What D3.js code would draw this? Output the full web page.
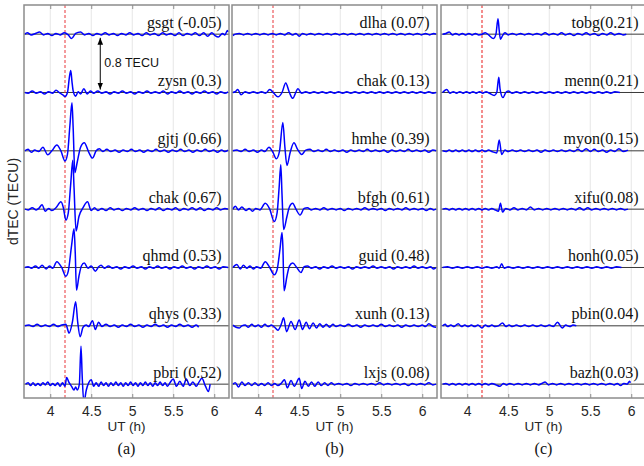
<!DOCTYPE html>
<html>
<head>
<meta charset="utf-8">
<script src="https://cdn.jsdelivr.net/npm/d3@7"></script>
<style>
  body { margin: 0; background: #fff; }
  svg { display: block; }
</style>
</head>
<body>
<svg id="chart" width="644" height="466"></svg>
<script>
// ---- data: dTEC traces as flat [UT, dTEC] pairs ----
const xTicks = [4, 4.5, 5, 5.5, 6];
const eventUT = 4.18;        // red dashed line
const rowGap = 0.8;          // TECU between stacked traces

// panel (a)
const gsgt = [3.69,0, 3.72,.02, 3.77,-.01, 3.82,.01, 3.87,.03, 3.92,-.01, 3.97,.01, 4.02,-.02, 4.07,.01, 4.12,-.01, 4.17,.02, 4.22,-.01, 4.26,-.06, 4.31,.01, 4.37,.03, 4.42,-.01, 4.47,.01, 4.52,-.02, 4.57,.01, 4.62,-.01, 4.67,.02, 4.72,-.01, 4.77,.01, 4.82,-.02, 4.87,.01, 4.92,-.01, 4.97,.02, 5.02,-.01, 5.07,.01, 5.12,-.02, 5.17,.02, 5.22,-.01, 5.27,.01, 5.32,-.02, 5.37,.02, 5.42,-.01, 5.47,.01, 5.52,-.02, 5.57,.02, 5.62,-.02, 5.67,.01, 5.72,-.01, 5.77,.02, 5.82,-.02, 5.87,.02, 5.92,-.03, 5.97,.02, 6.01,-.02, 6.05,-.04, 6.10,.01, 6.13,-.01, 6.16,.05, 6.17,.03];
const zysn = [3.69,0, 3.73,-.01, 3.78,.02, 3.83,-.01, 3.88,.01, 3.93,-.02, 3.98,.01, 4.03,-.01, 4.07,.03, 4.12,-.01, 4.15,-.03, 4.18,-.055, 4.21,0, 4.235,.22, 4.25,.30, 4.265,.15, 4.28,.02, 4.31,-.05, 4.34,.01, 4.37,-.02, 4.41,.05, 4.45,-.02, 4.49,.02, 4.53,-.01, 4.58,.02, 4.63,-.01, 4.68,.01, 4.73,-.02, 4.78,.01, 4.83,-.01, 4.88,.02, 4.93,-.01, 4.98,.01, 5.03,-.02, 5.08,.01, 5.13,-.01, 5.18,.02, 5.23,-.01, 5.28,.01, 5.33,-.01, 5.38,.02, 5.43,-.02, 5.48,.01, 5.53,-.01, 5.58,.02, 5.63,-.01, 5.68,.01, 5.73,-.02, 5.78,.01, 5.83,-.01, 5.88,.02, 5.93,-.01, 5.98,.01, 6.03,-.02, 6.08,.01, 6.13,-.01, 6.17,.01];
const gjtj = [3.69,0, 3.73,.02, 3.77,-.02, 3.81,.01, 3.86,-.01, 3.91,.05, 3.97,-.055, 4.02,0, 4.08,.08, 4.13,0, 4.18,-.14, 4.21,-.05, 4.24,.35, 4.265,.66, 4.28,.30, 4.30,-.30, 4.33,-.15, 4.37,.05, 4.415,.11, 4.47,-.02, 4.515,-.10, 4.56,0, 4.60,.03, 4.64,-.01, 4.69,.02, 4.74,-.01, 4.79,.01, 4.84,-.02, 4.89,.01, 4.94,-.01, 4.99,.02, 5.04,-.01, 5.09,.01, 5.14,-.02, 5.19,.01, 5.24,-.01, 5.29,.02, 5.34,-.01, 5.39,.01, 5.44,-.02, 5.49,.01, 5.54,-.01, 5.59,.02, 5.64,-.01, 5.69,.01, 5.74,-.02, 5.79,.01, 5.84,-.01, 5.89,.02, 5.94,-.01, 5.99,.01, 6.04,-.02, 6.09,.01, 6.13,-.01, 6.17,.01];
const chakA = [3.69,0, 3.73,-.01, 3.78,.02, 3.83,-.01, 3.86,.01, 3.90,.06, 3.94,-.03, 3.98,.01, 4.02,-.02, 4.07,.02, 4.13,.10, 4.16,.02, 4.19,-.15, 4.22,-.05, 4.25,.35, 4.275,.67, 4.29,.30, 4.315,-.30, 4.35,-.10, 4.40,.02, 4.455,.10, 4.50,-.02, 4.54,.02, 4.58,-.02, 4.63,.01, 4.68,-.02, 4.73,.02, 4.78,-.01, 4.83,.01, 4.88,-.02, 4.93,.01, 4.98,-.01, 5.03,.02, 5.08,-.01, 5.13,.01, 5.18,-.02, 5.23,.01, 5.28,-.01, 5.33,.02, 5.38,-.02, 5.43,.01, 5.48,-.01, 5.53,.02, 5.58,-.02, 5.63,.01, 5.68,-.01, 5.73,.02, 5.78,-.01, 5.83,.02, 5.88,-.02, 5.93,.01, 5.98,-.01, 6.03,.02, 6.08,-.01, 6.13,.01, 6.17,0];
const qhmd = [3.69,0, 3.73,.01, 3.77,-.01, 3.82,.02, 3.86,-.01, 3.90,.03, 3.95,-.02, 3.99,.02, 4.03,-.01, 4.08,.08, 4.14,0, 4.19,-.12, 4.22,-.05, 4.26,.30, 4.29,.53, 4.305,.20, 4.32,-.31, 4.35,-.12, 4.38,.02, 4.415,.06, 4.46,-.01, 4.50,.02, 4.55,-.05, 4.59,.01, 4.62,.03, 4.66,-.01, 4.71,.02, 4.76,-.01, 4.81,.01, 4.86,-.02, 4.91,.01, 4.96,-.01, 5.01,.02, 5.06,-.01, 5.11,.01, 5.16,-.02, 5.21,.01, 5.26,-.01, 5.31,.02, 5.36,-.01, 5.41,.01, 5.46,-.02, 5.51,.01, 5.56,-.01, 5.61,.02, 5.66,-.01, 5.71,.01, 5.76,-.02, 5.81,.01, 5.86,-.01, 5.91,.02, 5.96,-.01, 6.01,.01, 6.06,-.02, 6.11,.01, 6.17,0];
const qhys = [3.69,0, 3.74,.01, 3.79,-.01, 3.84,.02, 3.89,-.01, 3.94,.01, 3.99,-.01, 4.04,.02, 4.09,-.01, 4.14,.01, 4.19,.02, 4.23,-.10, 4.27,.05, 4.31,.33, 4.335,.05, 4.365,-.15, 4.40,-.02, 4.44,.01, 4.47,-.01, 4.515,.07, 4.55,-.05, 4.59,.05, 4.63,-.01, 4.68,.02, 4.73,-.01, 4.78,.01, 4.83,-.02, 4.88,.01, 4.93,-.01, 4.98,.02, 5.03,-.01, 5.08,.01, 5.13,-.02, 5.18,.01, 5.23,-.01, 5.28,.02, 5.33,-.01, 5.38,.01, 5.43,-.02, 5.48,.01, 5.53,-.01, 5.58,.02, 5.63,-.01, 5.68,.01, 5.73,-.02, 5.78,.01, 5.81,-.02];
const pbri = [3.70,0, 3.73,.02, 3.76,-.02, 3.79,.02, 3.82,-.02, 3.85,.01, 3.88,-.02, 3.91,.02, 3.94,-.01, 3.97,.03, 4.00,-.02, 4.03,.01, 4.06,-.02, 4.09,.02, 4.12,-.03, 4.15,.02, 4.18,-.03, 4.20,.09, 4.23,.02, 4.26,-.03, 4.29,-.08, 4.31,-.04, 4.33,-.08, 4.355,0, 4.375,.52, 4.39,.10, 4.41,-.25, 4.44,-.08, 4.47,.02, 4.50,.06, 4.53,-.03, 4.56,.02, 4.59,-.03, 4.62,.03, 4.65,-.02, 4.68,.02, 4.71,-.03, 4.74,.02, 4.77,-.02, 4.80,.03, 4.83,-.02, 4.86,.02, 4.89,-.03, 4.92,.02, 4.95,-.02, 4.98,.03, 5.01,-.02, 5.04,.02, 5.07,-.03, 5.10,.02, 5.13,-.02, 5.16,.03, 5.19,-.02, 5.22,.02, 5.25,-.03, 5.28,.02, 5.31,-.02, 5.34,.03, 5.37,-.02, 5.40,.02, 5.43,-.03, 5.46,.02, 5.50,.07, 5.54,-.03, 5.58,.04, 5.62,-.03, 5.66,.07, 5.70,-.02, 5.74,.03, 5.78,-.03, 5.81,.02, 5.85,.08, 5.89,-.02, 5.93,-.10, 5.95,0];

// panel (b)
const dlha = [3.69,-.02, 3.72,0, 3.77,.01, 3.82,-.01, 3.87,.01, 3.92,-.01, 3.97,.01, 4.02,-.01, 4.07,.01, 4.12,-.01, 4.17,.01, 4.22,-.01, 4.27,.01, 4.32,-.01, 4.37,.02, 4.42,-.01, 4.46,.01, 4.50,-.03, 4.54,.01, 4.59,-.01, 4.64,.01, 4.69,-.01, 4.74,.01, 4.79,-.01, 4.84,.01, 4.89,-.01, 4.94,.01, 4.99,-.01, 5.04,.01, 5.09,-.01, 5.14,.01, 5.19,-.01, 5.24,.01, 5.29,-.01, 5.34,.01, 5.39,-.01, 5.44,.01, 5.49,-.01, 5.54,.01, 5.59,-.01, 5.64,.01, 5.69,-.01, 5.74,.01, 5.79,-.01, 5.84,.01, 5.89,-.01, 5.94,.01, 5.99,-.01, 6.04,.01, 6.09,-.01, 6.14,.01, 6.17,0];
const chakB = [3.69,0, 3.72,.01, 3.75,.04, 3.79,-.03, 3.84,.01, 3.89,-.01, 3.94,.01, 3.99,-.01, 4.04,.01, 4.09,-.01, 4.14,.04, 4.19,-.01, 4.24,-.06, 4.29,0, 4.335,.13, 4.38,0, 4.42,-.08, 4.485,.05, 4.53,-.01, 4.58,.01, 4.63,-.01, 4.68,.01, 4.73,-.01, 4.78,.01, 4.83,-.01, 4.88,.01, 4.93,-.01, 4.98,.01, 5.03,-.01, 5.08,.01, 5.13,-.01, 5.18,.01, 5.23,-.01, 5.28,.01, 5.33,-.01, 5.38,.01, 5.43,-.01, 5.48,.01, 5.53,-.01, 5.58,.01, 5.63,-.01, 5.68,.01, 5.73,-.01, 5.78,.01, 5.83,-.01, 5.88,.01, 5.93,-.01, 5.98,.01, 6.03,-.01, 6.08,.01, 6.13,-.01, 6.17,0];
const hmhe = [3.69,0, 3.74,.01, 3.79,-.01, 3.84,.02, 3.89,-.01, 3.94,.01, 3.99,-.02, 4.04,.01, 4.08,-.01, 4.13,.05, 4.18,-.02, 4.22,-.11, 4.26,0, 4.30,.39, 4.325,.05, 4.35,-.20, 4.39,-.02, 4.435,.11, 4.48,.02, 4.53,-.05, 4.58,.01, 4.63,.02, 4.68,-.01, 4.73,.01, 4.78,-.01, 4.83,.02, 4.88,-.01, 4.93,.01, 4.98,-.01, 5.03,.01, 5.08,-.02, 5.13,.01, 5.18,-.01, 5.23,.01, 5.28,-.01, 5.33,.02, 5.38,-.01, 5.43,.01, 5.48,-.01, 5.53,.01, 5.58,-.02, 5.63,.01, 5.68,-.01, 5.73,.01, 5.78,-.01, 5.83,.02, 5.88,-.01, 5.93,.01, 5.98,-.01, 6.03,.01, 6.08,-.02, 6.13,.01, 6.17,0];
const bfgh = [3.69,0, 3.72,.04, 3.76,-.01, 3.80,.03, 3.85,-.02, 3.89,.01, 3.93,-.03, 3.97,.01, 4.02,-.01, 4.085,.08, 4.14,0, 4.195,-.17, 4.23,-.05, 4.255,.30, 4.275,.61, 4.29,.20, 4.31,-.28, 4.35,-.10, 4.38,.03, 4.42,.08, 4.46,0, 4.51,-.08, 4.56,.01, 4.60,.02, 4.65,-.01, 4.70,.01, 4.75,-.01, 4.80,.02, 4.85,-.01, 4.90,.01, 4.95,-.01, 5.00,.01, 5.05,-.02, 5.10,.01, 5.15,-.01, 5.20,.01, 5.25,-.01, 5.30,.02, 5.35,-.01, 5.40,.01, 5.45,-.01, 5.50,.01, 5.55,-.02, 5.60,.01, 5.65,-.01, 5.70,.01, 5.75,-.01, 5.80,.02, 5.85,-.01, 5.90,.01, 5.95,-.01, 6.00,.01, 6.05,-.02, 6.10,.01, 6.14,-.01, 6.17,0];
const guid = [3.69,0, 3.74,.04, 3.78,-.02, 3.82,.03, 3.86,-.01, 3.90,.02, 3.94,-.02, 3.98,.01, 4.03,-.01, 4.085,.08, 4.14,0, 4.195,-.10, 4.23,-.03, 4.265,.25, 4.29,.48, 4.30,.30, 4.315,-.32, 4.35,-.12, 4.38,.02, 4.42,.06, 4.47,0, 4.52,-.07, 4.56,.01, 4.60,.02, 4.65,-.01, 4.70,.01, 4.75,-.02, 4.80,.01, 4.85,-.01, 4.90,.02, 4.95,-.01, 5.00,.01, 5.05,-.01, 5.10,.01, 5.15,-.02, 5.20,.01, 5.25,-.01, 5.30,.01, 5.35,-.01, 5.40,.02, 5.45,-.01, 5.50,.01, 5.55,-.01, 5.60,.01, 5.65,-.02, 5.70,.01, 5.75,-.01, 5.80,.01, 5.85,-.01, 5.90,.02, 5.95,-.01, 6.00,.01, 6.05,-.01, 6.10,.01, 6.14,-.02, 6.17,0];
const xunh = [3.69,.01, 3.73,-.02, 3.77,-.03, 3.80,0, 3.84,.01, 3.88,-.02, 3.92,.02, 3.96,-.01, 4.00,.01, 4.04,-.02, 4.08,.02, 4.12,-.01, 4.16,.01, 4.20,-.02, 4.24,-.06, 4.28,.02, 4.31,.11, 4.345,-.08, 4.40,.06, 4.45,-.05, 4.50,.08, 4.54,-.05, 4.585,.05, 4.625,-.04, 4.67,.04, 4.71,-.03, 4.75,.03, 4.79,-.02, 4.83,.02, 4.87,-.02, 4.91,.02, 4.95,-.01, 5.00,.01, 5.05,-.01, 5.10,.02, 5.15,-.01, 5.20,.01, 5.25,-.02, 5.30,.01, 5.35,-.01, 5.40,.01, 5.45,-.01, 5.50,.02, 5.55,-.01, 5.60,.01, 5.65,-.01, 5.70,.01, 5.75,-.02, 5.80,.01, 5.85,-.01, 5.90,.01, 5.95,-.01, 6.00,.01, 6.04,-.01, 6.08,.03, 6.13,-.01, 6.17,-.02];
const lxjs = [3.69,0, 3.72,.02, 3.76,-.04, 3.80,.03, 3.84,-.02, 3.88,.02, 3.92,-.02, 3.96,.02, 4.00,-.02, 4.04,.01, 4.08,-.02, 4.12,.02, 4.16,-.02, 4.20,.01, 4.24,-.02, 4.28,.01, 4.32,.06, 4.355,-.05, 4.40,.05, 4.44,-.03, 4.50,.08, 4.53,-.06, 4.57,.04, 4.61,-.03, 4.65,.03, 4.69,-.03, 4.73,.03, 4.77,-.02, 4.81,.02, 4.85,-.02, 4.89,.02, 4.93,-.01, 4.98,.01, 5.03,-.01, 5.08,.01, 5.13,-.02, 5.18,.01, 5.23,-.01, 5.28,.01, 5.33,-.01, 5.38,.01, 5.43,-.01, 5.48,.02, 5.53,-.01, 5.58,.01, 5.63,-.01, 5.68,.01, 5.73,-.01, 5.78,.01, 5.83,-.02, 5.88,.01, 5.93,-.01, 5.98,.01, 6.03,-.01, 6.08,.02, 6.13,-.01, 6.17,0];

// panel (c)
const tobg = [3.70,0, 3.74,.01, 3.78,.03, 3.82,-.01, 3.86,.01, 3.90,-.01, 3.94,.01, 3.98,-.01, 4.02,.01, 4.06,-.01, 4.10,.01, 4.14,-.01, 4.18,0, 4.22,.02, 4.26,-.01, 4.32,-.06, 4.35,0, 4.375,.21, 4.39,.05, 4.405,-.07, 4.43,-.02, 4.46,.02, 4.50,-.01, 4.55,.01, 4.60,-.01, 4.65,.01, 4.70,-.01, 4.75,.01, 4.80,-.01, 4.85,.01, 4.90,-.01, 4.95,.02, 5.00,-.01, 5.05,.01, 5.10,-.01, 5.15,.02, 5.20,-.01, 5.25,.01, 5.30,-.02, 5.35,.01, 5.40,-.01, 5.45,.02, 5.50,-.01, 5.55,.01, 5.60,-.02, 5.65,.01, 5.70,-.01, 5.75,.02, 5.80,-.01, 5.85,.01, 5.90,-.01, 5.94,0];
const menn = [3.70,0, 3.75,.04, 3.79,-.01, 3.83,.01, 3.87,-.01, 3.91,.01, 3.95,-.01, 3.99,.01, 4.03,-.01, 4.07,.01, 4.11,-.01, 4.15,.01, 4.19,-.01, 4.23,.01, 4.27,-.01, 4.33,-.04, 4.36,0, 4.385,.21, 4.40,.05, 4.435,-.07, 4.47,0, 4.50,.02, 4.55,-.01, 4.60,.01, 4.65,-.01, 4.70,.01, 4.75,-.01, 4.80,.01, 4.85,-.01, 4.90,.01, 4.95,-.01, 5.00,.01, 5.05,-.01, 5.10,.01, 5.15,-.01, 5.20,.01, 5.25,-.01, 5.30,.01, 5.35,-.01, 5.40,.01, 5.45,-.01, 5.50,.01, 5.55,-.01, 5.60,.01, 5.65,-.01, 5.70,.01, 5.75,-.01, 5.80,.01, 5.86,0];
const myon = [3.70,0, 3.74,-.01, 3.78,.01, 3.82,-.01, 3.86,.01, 3.90,-.01, 3.94,.01, 3.98,-.01, 4.02,.01, 4.06,-.01, 4.10,.01, 4.14,-.01, 4.18,.01, 4.22,-.01, 4.26,.01, 4.30,-.01, 4.36,-.03, 4.39,.15, 4.42,-.05, 4.46,.01, 4.50,-.01, 4.55,.01, 4.60,-.01, 4.65,.01, 4.70,-.01, 4.75,.01, 4.80,-.01, 4.85,.01, 4.90,-.02, 4.95,.01, 5.00,-.01, 5.05,.01, 5.10,-.01, 5.15,.01, 5.20,-.01, 5.25,.01, 5.30,-.01, 5.35,.02, 5.40,-.01, 5.45,.03, 5.50,-.01, 5.55,.02, 5.60,-.01, 5.65,.01, 5.70,-.02, 5.75,.01, 5.80,-.01, 5.85,.03, 5.90,-.01, 5.96,.01];
const xifu = [3.70,0, 3.74,.01, 3.78,-.01, 3.82,.01, 3.86,-.01, 3.90,.01, 3.94,-.01, 3.98,.01, 4.02,-.01, 4.06,.01, 4.10,-.01, 4.14,.01, 4.18,-.01, 4.22,.01, 4.26,-.01, 4.30,.01, 4.34,-.01, 4.38,-.03, 4.405,.08, 4.43,-.04, 4.47,.01, 4.52,-.01, 4.57,.02, 4.62,-.01, 4.67,.01, 4.72,-.01, 4.77,.03, 4.82,-.01, 4.87,.01, 4.92,-.01, 4.97,.01, 5.02,-.01, 5.07,.01, 5.12,-.01, 5.17,.01, 5.22,-.01, 5.27,.01, 5.32,-.01, 5.37,.02, 5.42,-.01, 5.47,.02, 5.52,-.01, 5.57,.01, 5.62,-.01, 5.67,.01, 5.72,-.01, 5.77,.01, 5.82,-.01, 5.87,.01, 5.92,-.01, 5.96,0];
const honh = [3.70,0, 3.76,.01, 3.82,-.01, 3.88,.01, 3.94,-.01, 4.00,.01, 4.06,-.01, 4.12,.01, 4.18,-.01, 4.24,.01, 4.30,-.01, 4.36,.01, 4.39,-.01, 4.42,.05, 4.45,-.01, 4.50,.01, 4.56,-.01, 4.62,.01, 4.68,-.01, 4.74,.01, 4.80,-.01, 4.86,.01, 4.92,-.01, 4.98,.01, 5.04,-.01, 5.10,.01, 5.16,-.01, 5.22,.01, 5.28,-.01, 5.34,.01, 5.40,-.01, 5.46,.01, 5.52,-.01, 5.58,.01, 5.64,-.01, 5.70,.01, 5.76,-.01, 5.82,.01, 5.88,0];
const pbin = [3.70,0, 3.73,.02, 3.76,-.01, 3.80,.01, 3.84,-.01, 3.89,.03, 3.93,-.01, 3.97,.01, 4.01,-.01, 4.05,.01, 4.09,-.01, 4.13,.01, 4.18,-.03, 4.22,.01, 4.26,-.01, 4.30,.01, 4.34,-.01, 4.38,0, 4.43,.04, 4.47,-.01, 4.51,.01, 4.55,-.01, 4.60,.01, 4.65,-.01, 4.70,.01, 4.75,-.01, 4.80,.01, 4.85,-.01, 4.90,.01, 4.95,-.01, 5.00,.01, 5.05,-.01, 5.10,.05, 5.16,-.03, 5.20,.01, 5.25,-.01, 5.29,.01, 5.33,0];
const bazh = [3.70,0, 3.74,.01, 3.78,-.01, 3.82,.01, 3.86,-.01, 3.90,.01, 3.94,-.01, 3.98,.01, 4.02,-.01, 4.06,.01, 4.10,-.01, 4.14,.01, 4.18,-.01, 4.22,.01, 4.26,-.01, 4.30,.01, 4.35,-.01, 4.40,-.03, 4.44,.01, 4.48,-.01, 4.52,.01, 4.57,-.01, 4.62,.01, 4.67,-.01, 4.72,.01, 4.77,-.01, 4.82,.01, 4.87,-.01, 4.91,.01, 4.95,.03, 4.99,-.01, 5.04,.01, 5.09,-.01, 5.14,.01, 5.19,-.01, 5.24,.01, 5.29,-.01, 5.34,.01, 5.39,-.01, 5.44,.01, 5.49,-.01, 5.54,.01, 5.59,-.01, 5.64,.01, 5.69,-.01, 5.74,.01, 5.79,-.01, 5.83,.01, 5.87,-.02, 5.91,.01, 5.95,0, 5.98,.04, 5.99,.02];

const labelsA = ["gsgt (-0.05)", "zysn (0.3)", "gjtj (0.66)", "chak (0.67)", "qhmd (0.53)", "qhys (0.33)", "pbri (0.52)"];
const labelsB = ["dlha (0.07)", "chak (0.13)", "hmhe (0.39)", "bfgh (0.61)", "guid (0.48)", "xunh (0.13)", "lxjs (0.08)"];
const labelsC = ["tobg(0.21)", "menn(0.21)", "myon(0.15)", "xifu(0.08)", "honh(0.05)", "pbin(0.04)", "bazh(0.03)"];

const tracesA = [gsgt, zysn, gjtj, chakA, qhmd, qhys, pbri];
const tracesB = [dlha, chakB, hmhe, bfgh, guid, xunh, lxjs];
const tracesC = [tobg, menn, myon, xifu, honh, pbin, bazh];

// ---- layout ----
const svg = d3.select("#chart");
const plotTop = 5, plotBottom = 398, panelW = 205;
const panels = [
  { left: 24,  tag: "(a)", labels: labelsA, traces: tracesA, red: "#e8363a", redW: 1, arrow: true },
  { left: 232, tag: "(b)", labels: labelsB, traces: tracesB, red: "#e8363a", redW: 1, arrow: false },
  { left: 441, tag: "(c)", labels: labelsC, traces: tracesC, red: "#f48c8c", redW: 2, arrow: false }
];

const y = d3.scaleLinear()
  .domain([-(6 * rowGap) - 0.19, 0.40])
  .range([plotBottom, plotTop]);

const toPairs = arr => d3.range(0, arr.length, 2).map(i => [arr[i], arr[i + 1]]);

const defs = svg.append("defs");
defs.append("marker")
  .attr("id", "arr")
  .attr("viewBox", "0 0 10 10")
  .attr("refX", 10).attr("refY", 5)
  .attr("markerWidth", 7).attr("markerHeight", 7)
  .attr("markerUnits", "userSpaceOnUse")
  .attr("orient", "auto-start-reverse")
  .append("path")
  .attr("d", "M0,1 L10,5 L0,9 Z")
  .attr("fill", "#000");

panels.forEach((p, pi) => {
  const x = d3.scaleLinear().domain([3.68, 6.18]).range([p.left, p.left + panelW]);
  const g = svg.append("g");

  defs.append("clipPath").attr("id", "clip" + pi)
    .append("rect")
    .attr("x", p.left).attr("y", plotTop)
    .attr("width", panelW).attr("height", plotBottom - plotTop);

  // vertical grid
  g.append("g").selectAll("line")
    .data(xTicks).join("line")
    .attr("x1", d => x(d)).attr("x2", d => x(d))
    .attr("y1", plotTop).attr("y2", plotBottom)
    .attr("stroke", "#e6e6e6").attr("stroke-width", 1);

  // baselines
  g.append("g").selectAll("line")
    .data(p.traces).join("line")
    .attr("x1", p.left).attr("x2", p.left + panelW)
    .attr("y1", (d, i) => y(-i * rowGap)).attr("y2", (d, i) => y(-i * rowGap))
    .attr("stroke", "#3a3a3a").attr("stroke-width", 1);

  // event line
  g.append("line")
    .attr("x1", x(eventUT)).attr("x2", x(eventUT))
    .attr("y1", plotTop).attr("y2", plotBottom)
    .attr("stroke", p.red).attr("stroke-width", p.redW)
    .attr("stroke-dasharray", "3,2");

  // traces
  const line = d3.line().curve(d3.curveMonotoneX);
  g.append("g").attr("clip-path", `url(#clip${pi})`)
    .selectAll("path")
    .data(p.traces).join("path")
    .attr("d", (d, i) => line(toPairs(d).map(([t, v]) => [x(t), y(v - i * rowGap)])))
    .attr("fill", "none")
    .attr("stroke", "#0000ff")
    .attr("stroke-width", 1.5)
    .attr("stroke-linejoin", "round");

  // station labels
  g.append("g").selectAll("text")
    .data(p.labels).join("text")
    .attr("x", x(6.09))
    .attr("y", (d, i) => y(-i * rowGap) - 6.5)
    .attr("text-anchor", "end")
    .style("font-family", "'Liberation Serif', 'Times New Roman', serif")
    .style("font-size", "16px")
    .attr("fill", "#111")
    .text(d => d);

  // frame
  g.append("rect")
    .attr("x", p.left).attr("y", plotTop)
    .attr("width", panelW).attr("height", plotBottom - plotTop)
    .attr("fill", "none").attr("stroke", "#8c8c8c").attr("stroke-width", 1.5);

  // axes (ticks inside)
  const axB = g.append("g")
    .attr("transform", `translate(0,${plotBottom})`)
    .call(d3.axisBottom(x).tickValues(xTicks).tickSize(-4).tickPadding(8).tickFormat(d3.format("")));
  axB.select(".domain").remove();
  axB.selectAll("line").attr("stroke", "#8c8c8c");
  axB.selectAll("text")
    .style("font-family", "'Liberation Sans', Arial, sans-serif")
    .style("font-size", "14px").attr("fill", "#262626");

  const axT = g.append("g")
    .attr("transform", `translate(0,${plotTop})`)
    .call(d3.axisTop(x).tickValues(xTicks).tickSize(-4).tickFormat(""));
  axT.select(".domain").remove();
  axT.selectAll("line").attr("stroke", "#8c8c8c");

  // x title and panel tag
  g.append("text")
    .attr("x", p.left + panelW / 2).attr("y", 431)
    .attr("text-anchor", "middle")
    .style("font-family", "'Liberation Sans', Arial, sans-serif")
    .style("font-size", "13.5px").attr("fill", "#262626")
    .text("UT (h)");

  g.append("text")
    .attr("x", p.left + panelW / 2).attr("y", 454)
    .attr("text-anchor", "middle")
    .style("font-family", "'Liberation Serif', 'Times New Roman', serif")
    .style("font-size", "16px").attr("fill", "#111")
    .text(p.tag);

  if (p.arrow) {
    g.append("line")
      .attr("x1", x(4.61)).attr("x2", x(4.61))
      .attr("y1", y(-0.05)).attr("y2", y(-0.76))
      .attr("stroke", "#000").attr("stroke-width", 1)
      .attr("marker-start", "url(#arr)")
      .attr("marker-end", "url(#arr)");
    g.append("text")
      .attr("x", x(4.66)).attr("y", y(-0.45))
      .style("font-family", "'Liberation Sans', Arial, sans-serif")
      .style("font-size", "12.5px").attr("fill", "#111")
      .text("0.8 TECU");
  }
});

// y title
svg.append("text")
  .attr("transform", `translate(18,${(plotTop + plotBottom) / 2}) rotate(-90)`)
  .attr("text-anchor", "middle")
  .style("font-family", "'Liberation Sans', Arial, sans-serif")
  .style("font-size", "14px").attr("fill", "#262626")
  .text("dTEC (TECU)");
</script>
</body>
</html>
